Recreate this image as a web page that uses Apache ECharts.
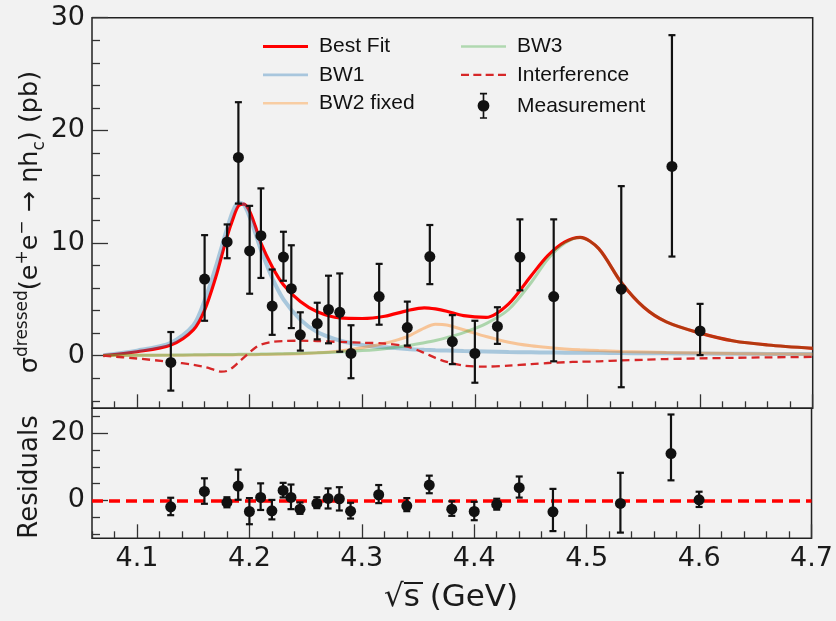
<!DOCTYPE html>
<html>
<head>
  <meta charset="utf-8">
  <title>e+e- -> eta hc fit</title>
  <script src="https://cdn.jsdelivr.net/npm/echarts@6/dist/echarts.min.js"></script>
  <style>html,body{margin:0;padding:0;background:#f2f2f2;}</style>
</head>
<body>
<div id="main" style="width:836px;height:621px;"></div>
<script type="text/javascript">
  // measurement (GeV, pb)
  var ecm   = [4.13, 4.16, 4.18, 4.19, 4.20, 4.21, 4.22, 4.23, 4.237, 4.245, 4.26, 4.27, 4.28, 4.29, 4.315, 4.34, 4.36, 4.38, 4.40, 4.42, 4.44, 4.47, 4.53, 4.575, 4.60];
  var xsec  = [-0.6, 6.8, 10.1, 17.6, 9.3, 10.65, 4.4, 8.75, 5.95, 1.85, 2.85, 4.1, 3.85, 0.2, 5.25, 2.5, 8.8, 1.25, 0.2, 2.6, 8.75, 5.25, 5.9, 16.8, 2.2];
  var errUp = [2.7, 3.9, 1.55, 4.9, 4.0, 4.2, 3.25, 2.25, 3.85, 2.0, 1.85, 3.0, 3.45, 2.5, 2.9, 2.3, 2.8, 2.35, 2.9, 1.7, 3.35, 6.85, 9.15, 11.65, 2.4];
  var errDn = [2.5, 3.7, 1.45, 4.1, 3.8, 3.75, 2.55, 2.1, 3.5, 1.4, 1.4, 3.0, 3.5, 2.2, 2.5, 1.6, 2.45, 2.0, 2.6, 1.55, 2.95, 5.75, 8.7, 8.0, 2.15];
  var resid = [-1.9, 2.7, -0.6, 4.3, -3.3, 0.9, -3.1, 3.0, 0.9, -2.6, -0.9, 0.6, 0.5, -3.2, 1.7, -1.6, 4.6, -2.6, -3.3, -1.2, 3.8, -3.4, -0.9, 14.0, 0.2];

  // fit curves read on a common grid
  var curveX  = [4.07, 4.10, 4.13, 4.15, 4.16, 4.17, 4.175, 4.18, 4.185, 4.19, 4.195, 4.20, 4.205, 4.21, 4.22, 4.23, 4.245, 4.26, 4.28, 4.30, 4.32, 4.34, 4.355, 4.365, 4.375, 4.39, 4.41, 4.43, 4.45, 4.465, 4.48, 4.4935, 4.51, 4.53, 4.55, 4.57, 4.60, 4.63, 4.66, 4.70];
  var bestFit = [0.0, 0.35, 0.95, 2.3, 4.05, 7.0, 8.8, 10.6, 12.1, 13.3, 13.45, 12.8, 11.5, 10.0, 7.9, 6.3, 4.8, 3.9, 3.35, 3.3, 3.5, 4.0, 4.25, 4.15, 3.95, 3.55, 3.4, 4.6, 7.1, 8.9, 10.1, 10.5, 9.5, 6.5, 4.3, 3.0, 2.0, 1.3, 0.95, 0.65];
  var bw1     = [0.05, 0.45, 1.15, 2.7, 4.9, 7.9, 9.6, 11.3, 12.8, 13.6, 13.4, 12.3, 10.9, 9.4, 6.9, 5.0, 3.2, 2.1, 1.35, 0.95, 0.75, 0.6, 0.52, 0.48, 0.45, 0.41, 0.37, 0.33, 0.3, 0.28, 0.27, 0.26, 0.25, 0.23, 0.22, 0.21, 0.19, 0.17, 0.16, 0.14];
  var bw2     = [0.02, 0.03, 0.04, 0.05, 0.06, 0.06, 0.07, 0.07, 0.07, 0.08, 0.08, 0.09, 0.09, 0.1, 0.12, 0.14, 0.18, 0.25, 0.42, 0.7, 1.1, 1.7, 2.45, 2.78, 2.72, 2.3, 1.7, 1.2, 0.88, 0.72, 0.6, 0.52, 0.45, 0.38, 0.33, 0.28, 0.23, 0.19, 0.16, 0.13];
  var bw3     = [0.02, 0.04, 0.06, 0.08, 0.09, 0.1, 0.1, 0.11, 0.11, 0.12, 0.12, 0.13, 0.13, 0.14, 0.16, 0.18, 0.21, 0.25, 0.33, 0.45, 0.62, 0.88, 1.15, 1.35, 1.6, 2.05, 2.85, 4.1, 6.5, 8.6, 10.0, 10.5, 9.5, 6.5, 4.3, 3.0, 2.0, 1.3, 0.95, 0.65];
  var interf  = [0.0, -0.25, -0.55, -0.8, -1.0, -1.3, -1.42, -1.35, -1.05, -0.6, -0.15, 0.3, 0.7, 0.98, 1.22, 1.3, 1.33, 1.3, 1.22, 1.15, 1.08, 0.8, 0.25, -0.2, -0.55, -0.88, -0.97, -0.88, -0.75, -0.65, -0.58, -0.54, -0.5, -0.42, -0.36, -0.3, -0.24, -0.19, -0.15, -0.11];

  // ticks
  var xMajor = [4.1, 4.2, 4.3, 4.4, 4.5, 4.6, 4.7];
  var xMinor = [4.06, 4.08, 4.12, 4.14, 4.16, 4.18, 4.22, 4.24, 4.26, 4.28, 4.32, 4.34, 4.36, 4.38, 4.42, 4.44, 4.46, 4.48, 4.52, 4.54, 4.56, 4.58, 4.62, 4.64, 4.66, 4.68];
  var yMajor = [0, 10, 20, 30];
  var yMinor = [-4, -2, 2, 4, 6, 8, 12, 14, 16, 18, 22, 24, 26, 28];
  var rMajor = [0, 20];
  var rMinor = [-10, -5, 5, 10, 15, 25];

  function zip(a, b) { return a.map(function (v, i) { return [v, b[i]]; }); }

  var bars = ecm.map(function (x, i) { return [x, xsec[i] - errDn[i], xsec[i] + errUp[i]]; });
  var resBars = ecm.map(function (x, i) { return [x, resid[i] - errDn[i], resid[i] + errUp[i]]; });

  function errorBars(params, api) {
    var x = api.value(0);
    var top = api.coord([x, api.value(2)]);
    var bot = api.coord([x, api.value(1)]);
    var cap = 3.5;
    var st = { stroke: '#111', lineWidth: 2.2 };
    return { type: 'group', children: [
      { type: 'line', shape: { x1: top[0], y1: top[1], x2: bot[0], y2: bot[1] }, style: st },
      { type: 'line', shape: { x1: top[0] - cap, y1: top[1], x2: top[0] + cap, y2: top[1] }, style: st },
      { type: 'line', shape: { x1: bot[0] - cap, y1: bot[1], x2: bot[0] + cap, y2: bot[1] }, style: st }
    ]};
  }

  var tickColor = '#333';
  var lblFont = { fontFamily: 'DejaVu Sans', fontSize: 27, color: '#1a1a1a' };

  function xAx(grid, values, len, labels) {
    return {
      type: 'value', gridIndex: grid, position: 'bottom', min: 4.06, max: 4.70,
      axisLine: { show: false, onZero: false },
      splitLine: { show: false },
      axisTick: { inside: true, length: len, customValues: values, lineStyle: { color: tickColor, width: 1.3 } },
      axisLabel: labels ? Object.assign({ show: true, margin: 7, customValues: values,
        formatter: function (v) { return v.toFixed(1); } }, lblFont) : { show: false }
    };
  }
  function yAx(grid, min, max, values, len, labels) {
    return {
      type: 'value', gridIndex: grid, position: 'left', min: min, max: max,
      axisLine: { show: false, onZero: false },
      splitLine: { show: false },
      axisTick: { inside: true, length: len, customValues: values, lineStyle: { color: tickColor, width: 1.3 } },
      axisLabel: labels ? Object.assign({ show: true, margin: 7, customValues: values }, lblFont) : { show: false }
    };
  }

  var chart = echarts.init(document.getElementById('main'));
  var legendText = { fontFamily: 'Liberation Sans', fontSize: 21, color: '#111', padding: [0, 0, 0, 6] };
  var lineIcon = 'path://M0,0H45V3H0Z';
  var thinIcon = 'path://M0,0H45V2.6H0Z';
  var dashIcon = 'path://M0,0H8V2.2H0Z M12.3,0H20.3V2.2H12.3Z M24.6,0H32.6V2.2H24.6Z M36.9,0H44.9V2.2H36.9Z';
  var measIcon = 'path://M2,0H8V1.4H2Z M4.3,0H5.7V22H4.3Z M2,20.6H8V22H2Z M0,11A5,5 0 1,1 10,11A5,5 0 1,1 0,11Z';

  var legendBase = { top: 31, orient: 'vertical', itemWidth: 45, itemHeight: 26, itemGap: 7.4,
    selectedMode: false, textStyle: legendText };

  var option = {
    backgroundColor: '#f2f2f2',
    animation: false,
    grid: [
      { left: 92, top: 17.7, width: 720.7, height: 390.6, show: true, borderColor: '#222', borderWidth: 1.5, backgroundColor: 'transparent' },
      { left: 92, top: 408.3, width: 720.7, height: 130, show: true, borderColor: '#222', borderWidth: 1.5, backgroundColor: 'transparent' }
    ],
    legend: [
      Object.assign({ left: 258,
        data: [{ name: 'Best Fit', icon: lineIcon }, { name: 'BW1', icon: thinIcon }, { name: 'BW2 fixed', icon: thinIcon }] }, legendBase),
      Object.assign({ left: 456,
        data: [{ name: 'BW3', icon: thinIcon }, { name: 'Interference', icon: dashIcon }, { name: 'Measurement', icon: measIcon }] }, legendBase)
    ],
    xAxis: [
      xAx(0, xMajor, 14, false),
      xAx(0, xMinor, 7, false),
      xAx(1, xMajor, 14, true),
      xAx(1, xMinor, 7, false)
    ],
    yAxis: [
      yAx(0, -4.67, 30, yMajor, 16, true),
      yAx(0, -4.67, 30, yMinor, 8, false),
      yAx(1, -11.3, 27.5, rMajor, 16, true),
      yAx(1, -11.3, 27.5, rMinor, 8, false)
    ],
    graphic: [
      { type: 'text', x: 30, y: 222, rotation: Math.PI / 2,
        style: {
          text: '{a|σ}{s|dressed}{a|(e}{s|+}{a|e}{s|−}{a| → ηh}{b|c}{a|) (pb)}',
          align: 'center', verticalAlign: 'middle', fill: '#1a1a1a',
          rich: {
            a: { fontFamily: 'DejaVu Sans', fontSize: 25.5, lineHeight: 36, verticalAlign: 'middle', fill: '#1a1a1a' },
            s: { fontFamily: 'DejaVu Sans', fontSize: 17, lineHeight: 36, verticalAlign: 'top', padding: [2, 0, 0, 0], fill: '#1a1a1a' },
            b: { fontFamily: 'DejaVu Sans', fontSize: 17, lineHeight: 30, verticalAlign: 'bottom', fill: '#1a1a1a' }
          }
        } },
      { type: 'text', x: 30, y: 477, rotation: Math.PI / 2,
        style: { text: 'Residuals', align: 'center', verticalAlign: 'middle',
          font: '26px "DejaVu Sans"', fill: '#1a1a1a' } },
      { type: 'text', x: 451, y: 598,
        style: { text: '√s (GeV)', align: 'center', verticalAlign: 'middle',
          font: '31px "DejaVu Sans"', fill: '#1a1a1a' } },
      { type: 'line', shape: { x1: 404, y1: 583, x2: 423, y2: 583 }, style: { stroke: '#1a1a1a', lineWidth: 2 } }
    ],
    series: [
      { name: 'Best Fit', type: 'line', xAxisIndex: 0, yAxisIndex: 0, data: zip(curveX, bestFit),
        symbol: 'none', smooth: 0.3, lineStyle: { color: '#ff0000', width: 3.2 }, itemStyle: { color: '#ff0000' }, z: 2 },
      { name: 'BW1', type: 'line', xAxisIndex: 0, yAxisIndex: 0, data: zip(curveX, bw1),
        symbol: 'none', smooth: 0.3, lineStyle: { color: '#1f77b4', width: 4, opacity: 0.35 }, itemStyle: { color: '#a8c6dd' }, z: 3 },
      { name: 'BW2 fixed', type: 'line', xAxisIndex: 0, yAxisIndex: 0, data: zip(curveX, bw2),
        symbol: 'none', smooth: 0.3, lineStyle: { color: '#ff7f0e', width: 3, opacity: 0.4 }, itemStyle: { color: '#f8cda3' }, z: 3 },
      { name: 'BW3', type: 'line', xAxisIndex: 0, yAxisIndex: 0, data: zip(curveX, bw3),
        symbol: 'none', smooth: 0.3, lineStyle: { color: '#2ca02c', width: 3, opacity: 0.35 }, itemStyle: { color: '#b0d8b0' }, z: 3 },
      { name: 'Interference', type: 'line', xAxisIndex: 0, yAxisIndex: 0, data: zip(curveX, interf),
        symbol: 'none', smooth: 0.3, lineStyle: { color: '#d62728', width: 2.3, type: [8, 5] }, itemStyle: { color: '#d62728' }, z: 4 },
      { name: 'Measurement', type: 'custom', xAxisIndex: 0, yAxisIndex: 0, data: bars,
        renderItem: errorBars, encode: { x: 0, y: [1, 2] }, itemStyle: { color: '#111' }, z: 5 },
      { name: 'Measurement', type: 'scatter', xAxisIndex: 0, yAxisIndex: 0, data: zip(ecm, xsec),
        symbol: 'circle', symbolSize: 11, itemStyle: { color: '#111', opacity: 1 }, z: 6 },
      { name: 'Residuals', type: 'custom', xAxisIndex: 2, yAxisIndex: 2, data: resBars,
        renderItem: errorBars, encode: { x: 0, y: [1, 2] }, z: 5 },
      { name: 'Residuals', type: 'scatter', xAxisIndex: 2, yAxisIndex: 2, data: zip(ecm, resid),
        symbol: 'circle', symbolSize: 11, itemStyle: { color: '#111', opacity: 1 }, z: 6,
        markLine: { silent: true, symbol: 'none', label: { show: false }, z: 4,
          lineStyle: { color: '#ff0000', width: 3.5, type: [11, 6], opacity: 1 },
          data: [{ yAxis: 0 }] } }
    ]
  };

  option && chart.setOption(option);
</script>
</body>
</html>
